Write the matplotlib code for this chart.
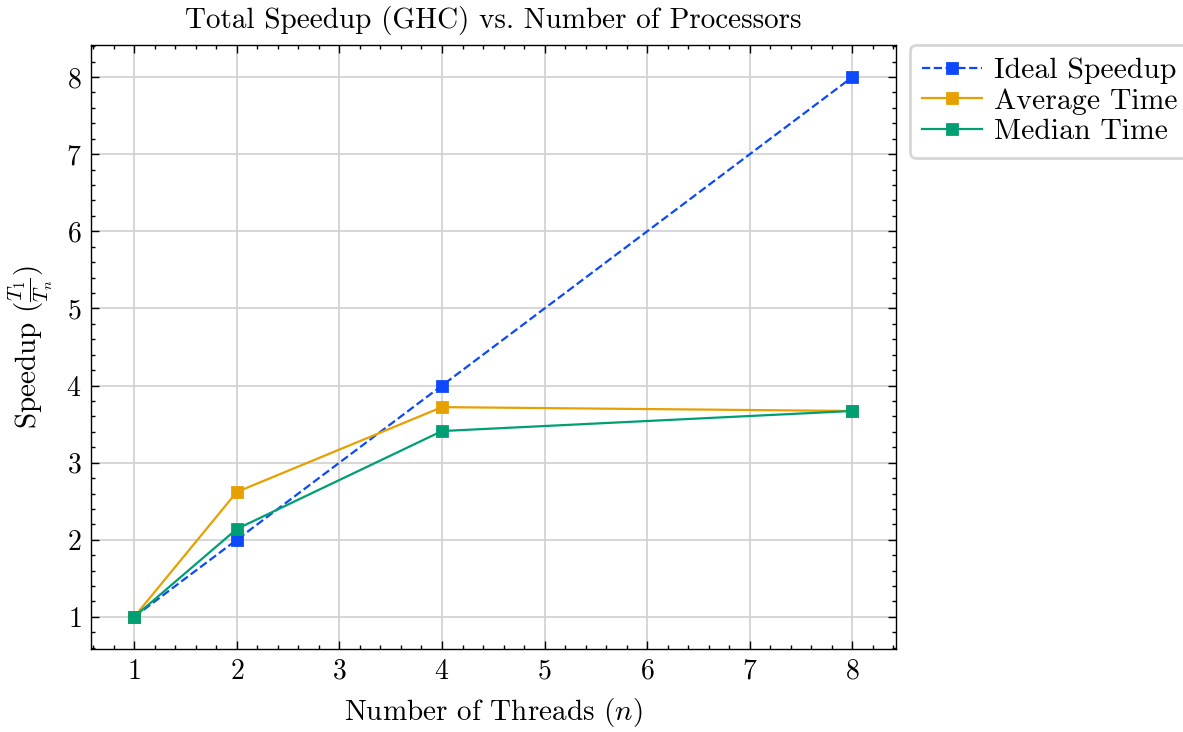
import matplotlib
matplotlib.use("Agg")
import matplotlib.pyplot as plt
from matplotlib.ticker import MultipleLocator

# data
threads = [1, 2, 4, 8]
ideal = [1, 2, 4, 8]
avg_speedup = [1, 2.62, 3.72, 3.67]
median_speedup = [1, 2.14, 3.41, 3.67]

plt.rcParams['font.family'] = 'serif'
plt.rcParams['font.serif'] = ['cmr10']
plt.rcParams['mathtext.fontset'] = 'cm'
plt.rcParams['axes.formatter.use_mathtext'] = True
plt.rcParams['font.size'] = 10

fig = plt.figure(figsize=(5.915, 3.66), dpi=200)
ax = fig.add_axes([0.077, 0.1135, 0.680, 0.825])

ax.plot(threads, ideal, '--', color='#0d49fb', marker='s', markersize=3.5,
        linewidth=0.8, label='Ideal Speedup')
ax.plot(threads, avg_speedup, '-', color='#e6a000', marker='s', markersize=3.5,
        linewidth=0.8, label='Average Time')
ax.plot(threads, median_speedup, '-', color='#009e73', marker='s', markersize=3.5,
        linewidth=0.8, label='Median Time')

ax.set_xlim(0.58, 8.42)
ax.set_ylim(0.585, 8.415)
ax.xaxis.set_major_locator(MultipleLocator(1))
ax.xaxis.set_minor_locator(MultipleLocator(0.2))
ax.yaxis.set_major_locator(MultipleLocator(1))
ax.yaxis.set_minor_locator(MultipleLocator(0.2))
ax.tick_params(which='both', direction='in', top=True, right=True, width=0.5,
               labelsize=10)
ax.tick_params(which='major', length=3)
ax.tick_params(which='minor', length=1.5)
for s in ax.spines.values():
    s.set_linewidth(0.5)
ax.grid(True, which='major', color='#d0d0d0', linewidth=0.6)
ax.set_axisbelow(True)

ax.set_title('Total Speedup (GHC) vs. Number of Processors', fontsize=10.5)
ax.set_xlabel('Number of Threads ($n$)', fontsize=10.5)
ax.set_ylabel(r'Speedup ($\frac{T_1}{T_n}$)', fontsize=10.5)

ax.legend(loc='upper left', bbox_to_anchor=(1.018, 1.0), borderaxespad=0,
          frameon=True, fancybox=True, handlelength=2.0, labelspacing=0.12,
          borderpad=0.42, handletextpad=0.4, fontsize=10.7)

fig.savefig('out.png', dpi=200)
